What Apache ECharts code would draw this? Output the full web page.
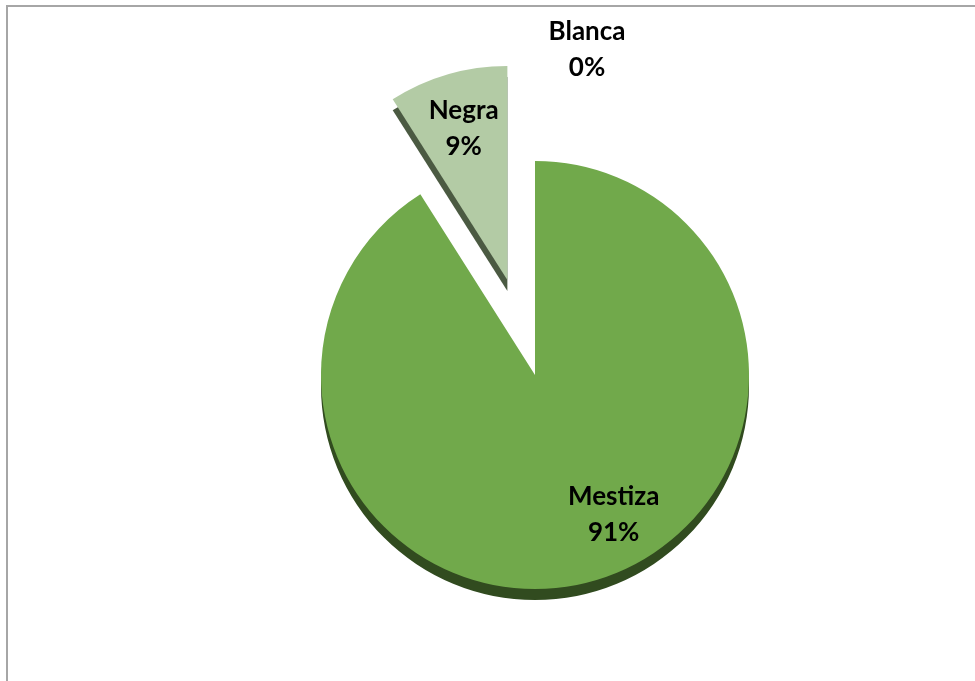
<!DOCTYPE html>
<html>
<head>
<meta charset="utf-8">
<script src="https://cdn.jsdelivr.net/npm/echarts@6/dist/echarts.min.js"></script>
<style>html,body{margin:0;padding:0;background:#fff;}#c{width:975px;height:681px;}</style>
</head>
<body>
<div id="c"></div>
<script>
const categories = ['Mestiza', 'Negra', 'Blanca'];
const values = [91, 9, 0];
const faceColors = ['#71a94b', '#b3cba5', '#dfe8d8'];
const sideColors = ['#314b1f', '#4b5a42', '#8a9a80'];
const labelShift = [[48, 34], [-13, -46], [52, -215]];

const chart = echarts.init(document.getElementById('c'), null, {renderer: 'canvas'});

const faceData = categories.map((n, i) => ({
  name: n, value: values[i], selected: n === 'Negra',
  itemStyle: {color: faceColors[i]}
}));
const sideData = categories.map((n, i) => ({
  name: n, value: values[i], selected: n === 'Negra',
  itemStyle: {color: sideColors[i]}
}));

const common = {
  type: 'pie', radius: 214, startAngle: 90, clockwise: true,
  selectedMode: 'multiple', selectedOffset: 99, avoidLabelOverlap: false,
  animation: false, minAngle: 0
};

chart.setOption({
  backgroundColor: '#ffffff',
  graphic: [{
    type: 'rect', shape: {x: 7, y: 6, width: 1000, height: 720},
    style: {fill: 'none', stroke: '#a6a6a6', lineWidth: 2}, silent: true, z: 0
  }],
  series: [
    Object.assign({}, common, {
      center: [535, 386], z: 1, silent: true,
      label: {show: false}, labelLine: {show: false},
      emphasis: {disabled: true},
      data: sideData
    }),
    Object.assign({}, common, {
      center: [535, 375], z: 2,
      label: {
        show: true, position: 'inside',
        formatter: p => p.name + '\n' + Math.round(p.percent) + '%',
        fontFamily: 'Lato', fontWeight: 'bold', fontSize: 26,
        lineHeight: 36, color: '#000000', align: 'center'
      },
      labelLayout: p => ({dx: labelShift[p.dataIndex][0], dy: labelShift[p.dataIndex][1]}),
      labelLine: {show: false},
      emphasis: {disabled: true},
      data: faceData
    })
  ]
});
</script>
</body>
</html>
